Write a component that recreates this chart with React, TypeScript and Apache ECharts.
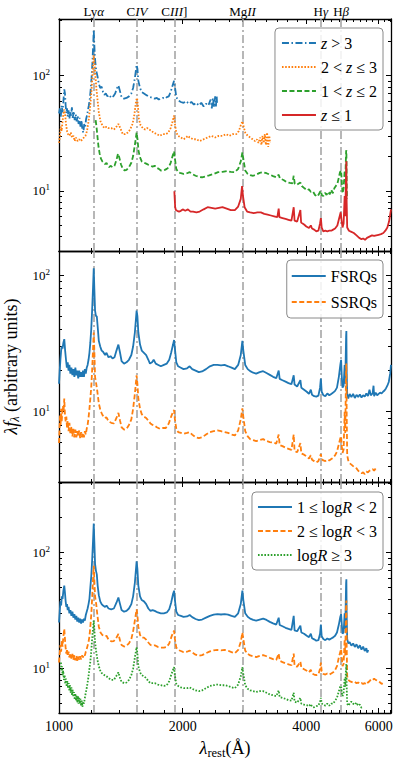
import React, { useEffect, useRef } from "react";
import * as echarts from "echarts";

type Pt = [number, number];

// ---------- axes / annotations ----------
const X_MIN = 1000;
const X_MAX = 6430;
const X_MAJOR = [1000, 2000, 4000, 6000];
const X_MINOR = [1200, 1400, 1600, 1800, 2200, 2400, 2600, 2800, 3000, 3200, 3400, 3600, 3800, 4200, 4400, 4600, 4800, 5000, 5200, 5400, 5600, 5800, 6200, 6400];
const Y_MAJOR = [10, 100];
const Y_MINOR = [3, 4, 5, 6, 7, 8, 9, 20, 30, 40, 50, 60, 70, 80, 90, 200, 300, 400];
const PANEL_Y_MIN = [3.0, 3.06, 4.15];
const PANEL_Y_MAX = [310, 150, 406];
const LINE_WAVES = [1216, 1549, 1909, 2798, 4340, 4861];
const LINE_LABELS = ["Ly{i|α}", "C{i|IV}", "C{i|III}]", "Mg{i|II}", "H{i|γ}", "H{i|β}"];

// ---------- panel 1: redshift bins ----------
const zGt3: Pt[] = [[1000,47],[1005,52],[1010,44],[1015,55],[1020,48],[1025,60],[1030,76],[1034,70],[1038,55],[1042,47],[1046,52],[1050,44],[1055,50],[1060,42],[1065,48],[1070,45],[1075,53],[1080,43],[1086,49],[1092,41],[1098,46],[1104,40],[1110,45],[1116,38],[1122,43],[1128,36],[1134,41],[1140,34],[1146,32],[1152,38],[1158,36],[1164,42],[1170,45],[1176,50],[1182,55],[1188,62],[1194,75],[1200,95],[1206,130],[1211,180],[1215,250],[1218,200],[1222,150],[1226,130],[1232,110],[1240,100],[1250,85],[1260,78],[1270,80],[1280,72],[1290,68],[1300,70],[1312,66],[1325,68],[1340,64],[1355,66],[1370,70],[1385,78],[1395,82],[1405,75],[1420,65],[1440,63],[1460,64],[1480,66],[1500,70],[1515,78],[1530,95],[1545,124],[1552,115],[1560,90],[1575,78],[1590,72],[1610,70],[1630,68],[1650,66],[1670,65],[1690,64],[1710,63],[1730,64],[1750,62],[1770,63],[1790,64],[1810,63],[1830,65],[1850,66],[1870,72],[1890,82],[1906,90],[1915,80],[1930,65],[1950,61],[1980,59],[2010,58],[2040,60],[2070,57],[2100,59],[2130,56],[2160,58],[2190,55],[2220,58],[2250,54],[2280,57],[2310,55],[2340,62],[2355,52],[2370,64],[2385,53],[2400,66],[2410,54],[2420,67],[2425,58]];
const z2to3: Pt[] = [[1000,26],[1005,30],[1010,36],[1015,33],[1020,40],[1025,46],[1030,51],[1035,46],[1040,38],[1046,33],[1052,31],[1060,30],[1068,32],[1076,29],[1084,30],[1092,27],[1100,29],[1110,27],[1120,28],[1130,27],[1140,28],[1150,29],[1160,30],[1170,33],[1180,40],[1190,52],[1200,75],[1208,110],[1214,150],[1220,130],[1226,100],[1234,75],[1242,60],[1250,48],[1262,40],[1275,37],[1290,35],[1305,36],[1320,35],[1340,35],[1360,34],[1380,36],[1395,38],[1410,35],[1430,31],[1450,31],[1470,32],[1490,34],[1510,38],[1525,45],[1540,60],[1549,64],[1556,55],[1565,42],[1580,37],[1600,35],[1620,34],[1640,35],[1660,34],[1680,33],[1700,32],[1730,31],[1760,30],[1790,31],[1820,31],[1845,32],[1870,35],[1890,40],[1906,45],[1915,38],[1930,32],[1950,30],[1980,29],[2010,28],[2040,29],[2060,30],[2080,29],[2120,28],[2160,28],[2200,27],[2250,28],[2300,29],[2350,30],[2400,29],[2450,30],[2500,30],[2550,31],[2600,30],[2650,31],[2700,31],[2740,33],[2770,37],[2795,40],[2810,37],[2840,32],[2880,30],[2920,29],[2960,28],[3000,27],[3030,28],[3060,26],[3090,29],[3110,25],[3130,30],[3150,26],[3170,31],[3190,25],[3210,32],[3230,24],[3250,30],[3265,26]];
const z1to2: Pt[] = [[1228,41],[1234,36],[1240,30],[1248,24],[1256,21],[1265,19],[1275,18],[1285,17.5],[1295,17],[1305,17.5],[1315,16.5],[1325,16],[1335,16.5],[1350,16],[1365,16.5],[1380,18.5],[1392,21],[1402,19.5],[1415,17],[1430,15.5],[1445,15],[1460,15.2],[1480,16],[1500,17.5],[1515,20],[1530,25],[1545,32],[1553,28],[1562,22],[1575,19.5],[1590,18],[1610,17.5],[1630,17.2],[1650,16.8],[1670,16.5],[1690,16.2],[1710,16.5],[1730,15.8],[1750,15.5],[1770,15],[1790,15],[1810,15.2],[1830,15.5],[1850,16],[1870,17.5],[1890,20],[1906,22],[1915,19],[1930,15.5],[1950,14.5],[1980,14.2],[2010,14],[2050,14.2],[2080,14.5],[2110,14],[2150,13.5],[2190,13.2],[2230,13.1],[2270,13.3],[2320,13.6],[2380,14],[2440,14.5],[2500,14.6],[2560,14.8],[2620,14.6],[2680,14.5],[2730,15.5],[2770,18],[2795,21.5],[2810,19],[2840,15],[2880,14],[2920,13.7],[2970,13.5],[3020,13.8],[3080,14.3],[3140,14.5],[3200,14.2],[3260,13.8],[3320,13.4],[3380,13.1],[3426,13.8],[3450,12.8],[3520,12.4],[3580,11.9],[3650,11.7],[3700,11.6],[3727,13.5],[3750,11.5],[3800,11.3],[3869,11.8],[3900,11],[3960,10.5],[4020,10.1],[4060,10.3],[4100,9.8],[4150,9.9],[4200,9.2],[4250,8.9],[4290,9.3],[4320,9.8],[4340,10],[4360,9.2],[4400,9],[4440,9.6],[4480,9.2],[4520,9.8],[4560,9.3],[4600,10.2],[4640,9.5],[4680,10.5],[4720,11],[4760,11.5],[4800,13],[4830,14.5],[4861,15],[4880,12],[4900,9.5],[4930,10.5],[4959,15],[4975,12],[5000,22],[5007,22.5],[5015,12],[5025,8.5]];
const zLe1: Pt[] = [[1909,9.9],[1913,8.5],[1918,7.2],[1925,6.8],[1940,6.7],[1960,6.6],[1980,6.7],[2000,6.9],[2030,6.7],[2060,6.9],[2090,6.6],[2120,6.6],[2160,6.5],[2200,6.6],[2250,6.9],[2300,7.2],[2350,7.1],[2400,7.0],[2450,7.1],[2500,7.2],[2560,7.0],[2620,6.8],[2680,6.8],[2730,7.3],[2770,8.5],[2790,11],[2805,9],[2830,7.2],[2870,6.6],[2920,6.5],[2980,6.4],[3040,6.5],[3100,6.5],[3160,6.3],[3220,6.2],[3280,6.1],[3340,6.0],[3400,5.9],[3426,7.0],[3440,5.9],[3500,5.8],[3560,5.7],[3620,5.6],[3680,5.5],[3727,7.2],[3745,5.5],[3800,5.4],[3869,6.8],[3885,5.3],[3950,5.1],[4000,4.9],[4060,4.75],[4102,5.0],[4130,4.7],[4180,4.6],[4230,4.45],[4280,4.5],[4320,5.2],[4340,5.8],[4360,4.8],[4400,4.45],[4450,4.5],[4500,4.45],[4550,4.5],[4600,4.5],[4650,4.6],[4700,4.7],[4760,5.0],[4810,5.8],[4850,6.5],[4875,5.5],[4900,4.8],[4930,5.2],[4959,9],[4975,6],[5000,15],[5007,18],[5015,8],[5030,4.8],[5080,4.5],[5150,4.4],[5220,4.3],[5300,4.1],[5380,3.9],[5450,3.8],[5500,3.85],[5560,3.75],[5620,3.9],[5700,4.0],[5780,4.1],[5850,4.05],[5920,4.1],[6000,4.15],[6080,4.2],[6160,4.3],[6230,4.5],[6300,4.8],[6360,5.4],[6400,6.2],[6430,6.9]];

// ---------- panel 2: FSRQs / SSRQs ----------
const fsrq: Pt[] = [[1000,16],[1004,20],[1008,24],[1012,28],[1016,30],[1020,29],[1025,32],[1030,34],[1035,28],[1040,24],[1045,21],[1050,23],[1055,20],[1060,22],[1066,19],[1072,21],[1078,18.5],[1084,20.5],[1090,18],[1096,21],[1102,18.5],[1108,20],[1114,17.5],[1120,20],[1126,18],[1132,19.5],[1138,18],[1144,20],[1150,18],[1156,20.5],[1162,19],[1168,21],[1174,22],[1180,24],[1186,27],[1192,32],[1198,40],[1204,55],[1210,80],[1215,112],[1219,80],[1224,55],[1230,50],[1236,50],[1242,42],[1250,33],[1260,30],[1270,28],[1280,27.5],[1295,26],[1305,27],[1320,25],[1335,25.5],[1350,24.5],[1365,25],[1380,28],[1395,31],[1408,27],[1420,23.5],[1440,22.5],[1460,23],[1480,24],[1500,26],[1515,30],[1530,38],[1545,55],[1552,50],[1560,38],[1575,31],[1590,28],[1610,27],[1630,26],[1650,24],[1665,22.5],[1685,23],[1700,24],[1720,22.5],[1745,22],[1770,21.5],[1800,22],[1830,22.5],[1855,24],[1875,27],[1895,31],[1906,33.5],[1915,29],[1930,23],[1950,21.5],[1980,21],[2010,20.5],[2050,20.8],[2080,21.5],[2110,20.5],[2150,20],[2190,19.5],[2230,19.7],[2280,20.5],[2330,21.5],[2380,22],[2430,22],[2480,21.8],[2530,22],[2580,21.5],[2630,21],[2680,20.5],[2730,22],[2770,26],[2795,33],[2810,28],[2840,22],[2880,20.5],[2920,19.8],[2970,19.3],[3020,19],[3080,19.5],[3140,19.8],[3200,19.2],[3260,18.6],[3320,18],[3380,17.6],[3426,20],[3445,17.4],[3500,17],[3560,16.6],[3620,16.2],[3680,15.9],[3727,18.5],[3745,15.8],[3800,15.3],[3869,17],[3890,15],[3950,14.5],[4010,14],[4060,13.5],[4102,14.5],[4130,13.3],[4180,13],[4230,12.9],[4280,13.1],[4320,15],[4340,17.5],[4360,14],[4400,13.2],[4450,13],[4500,13.6],[4550,13.2],[4600,13.5],[4650,13.8],[4700,14.2],[4750,15],[4800,18],[4840,22],[4861,24],[4880,18],[4900,15],[4930,15.5],[4959,22],[4975,16],[5000,36],[5007,39],[5015,20],[5030,13.5],[5060,12.5],[5100,13.5],[5150,12.8],[5200,13.5],[5250,12.6],[5300,13.3],[5350,12.8],[5400,13.4],[5450,12.7],[5500,13.2],[5550,12.9],[5600,13.6],[5650,13],[5700,14.5],[5740,13.2],[5800,13.6],[5830,15.5],[5850,13],[5900,13.8],[5950,13.2],[6000,13.5],[6050,13.8],[6100,13.6],[6150,14],[6200,14.3],[6250,14.8],[6300,15.5],[6350,16.5],[6400,19],[6430,22]];
const ssrq: Pt[] = [[1000,5.9],[1003,7.5],[1006,9.5],[1009,8],[1012,10.5],[1015,8.5],[1018,9.5],[1022,11],[1026,10],[1030,12.5],[1034,9.5],[1038,8.5],[1042,9.2],[1046,7.6],[1050,8.6],[1055,7.2],[1060,8.3],[1066,6.9],[1072,7.8],[1078,6.6],[1084,7.5],[1090,6.5],[1096,7.4],[1102,6.5],[1108,7.2],[1114,6.6],[1120,7.3],[1126,6.4],[1132,7.1],[1138,6.5],[1144,7],[1150,6.5],[1156,7.2],[1162,6.8],[1168,7.5],[1174,8],[1180,9],[1186,10.5],[1192,12.5],[1198,15],[1204,20],[1210,28],[1215,38],[1219,28],[1224,18],[1232,16],[1240,14],[1250,11.5],[1262,10.2],[1275,9.5],[1290,9.0],[1305,9.1],[1320,8.5],[1340,8.3],[1360,8.2],[1380,9],[1395,9.8],[1408,8.6],[1420,7.7],[1440,7.4],[1460,7.5],[1480,8],[1500,8.8],[1515,10.5],[1530,13.5],[1545,18.5],[1552,16],[1560,12.5],[1575,10.5],[1590,9.6],[1610,9.2],[1630,9.0],[1650,8.6],[1670,8.2],[1690,8.0],[1710,7.9],[1730,7.7],[1760,7.5],[1790,7.6],[1820,7.6],[1850,8.2],[1875,9.2],[1895,10],[1906,10.3],[1915,8.8],[1930,7.5],[1950,7.1],[1980,7.0],[2010,6.9],[2050,7.0],[2080,7.1],[2110,6.8],[2150,6.5],[2190,6.4],[2230,6.5],[2280,6.8],[2330,7.1],[2380,7.2],[2430,7.3],[2480,7.2],[2530,7.1],[2580,7.0],[2630,6.8],[2680,6.7],[2730,7.3],[2770,8.8],[2795,10.6],[2810,9.2],[2840,7.2],[2880,6.6],[2920,6.3],[2970,6.2],[3020,6.1],[3080,6.2],[3140,6.3],[3200,6.1],[3260,6.0],[3320,5.95],[3380,5.85],[3426,6.8],[3445,5.7],[3500,5.6],[3560,5.45],[3620,5.35],[3680,5.25],[3727,6.8],[3745,5.15],[3800,5.05],[3869,5.9],[3890,4.95],[3950,4.85],[4010,4.7],[4060,4.55],[4102,4.8],[4130,4.45],[4180,4.35],[4230,4.25],[4280,4.35],[4320,4.7],[4340,4.9],[4360,4.5],[4400,4.4],[4450,4.35],[4500,4.45],[4550,4.4],[4600,4.5],[4650,4.6],[4700,4.8],[4750,5.1],[4800,5.8],[4840,6.4],[4861,6.6],[4880,5.6],[4900,5.0],[4930,5.3],[4959,10],[4975,7],[5000,21],[5007,22.5],[5015,10],[5030,4.8],[5060,4.4],[5100,4.2],[5150,4.1],[5200,4.0],[5250,3.9],[5300,3.85],[5350,3.7],[5400,3.6],[5450,3.55],[5500,3.6],[5550,3.5],[5600,3.65],[5650,3.6],[5700,3.7],[5750,3.75],[5800,3.8],[5850,3.7],[5900,3.85],[5937,3.7]];

// ---------- panel 3: radio-loudness bins ----------
const logR1to2: Pt[] = [[1000,25],[1004,31],[1008,38],[1012,35],[1016,42],[1020,40],[1025,47],[1030,52],[1034,45],[1038,38],[1042,34],[1046,36],[1050,32],[1055,34],[1060,30],[1066,32],[1072,28.5],[1078,31],[1084,27.5],[1090,29.5],[1096,26.5],[1102,28.5],[1108,25.5],[1114,27.5],[1120,25],[1126,27],[1132,24.5],[1138,26.5],[1144,25],[1150,27],[1156,26],[1162,29],[1168,31],[1174,33],[1180,36],[1186,40],[1192,50],[1198,62],[1204,85],[1210,125],[1215,178],[1219,125],[1224,80],[1230,70],[1236,65],[1242,52],[1250,43],[1260,38],[1270,36],[1280,35],[1295,34],[1305,35],[1320,33],[1340,32.5],[1360,33],[1380,37],[1395,41],[1408,36],[1420,32],[1440,31],[1460,31.5],[1480,33],[1500,36],[1515,42],[1530,55],[1545,84],[1552,72],[1560,52],[1575,42],[1590,39],[1610,38],[1630,36],[1650,33],[1670,31.5],[1690,32],[1710,31.5],[1740,30.5],[1770,30],[1800,30],[1830,30.5],[1855,32.5],[1875,37],[1895,44],[1906,47],[1915,39],[1930,31],[1950,29],[1980,28.5],[2010,28],[2050,28.2],[2080,29],[2110,27.8],[2150,26.8],[2190,26.2],[2230,26.5],[2280,27.5],[2330,28.5],[2380,29.2],[2430,29.5],[2480,29.3],[2530,29.5],[2580,29.2],[2630,28.5],[2680,28],[2730,30],[2770,36],[2795,47],[2810,39],[2840,30],[2880,28],[2920,27],[2970,26.3],[3020,26],[3080,26.5],[3140,27],[3200,26.3],[3260,25.3],[3320,24.6],[3380,24],[3426,27.5],[3445,23.8],[3500,23.2],[3560,22.5],[3620,22],[3680,21.6],[3727,28.5],[3745,21.4],[3800,21],[3869,23.5],[3890,20.5],[3950,20],[4010,19.2],[4060,18.7],[4102,20],[4130,18.3],[4180,17.9],[4230,17.4],[4280,17.6],[4320,20],[4340,24],[4360,19],[4400,18],[4450,17.6],[4500,18.2],[4550,17.8],[4600,18.2],[4650,18.6],[4700,19.2],[4750,20.5],[4800,24],[4840,28],[4861,29.5],[4880,24],[4900,20],[4930,20.5],[4959,30],[4975,22],[5000,55],[5007,59],[5015,30],[5030,18],[5060,16.5],[5100,16.9],[5150,15.8],[5200,16.5],[5250,15.4],[5300,16.2],[5350,15],[5400,15.9],[5450,14.6],[5500,15.5],[5550,14.2],[5600,15],[5630,13.8],[5660,14.5]];
const logR2to3: Pt[] = [[1000,11.3],[1004,13.5],[1008,16],[1012,14],[1016,17.5],[1020,15.5],[1025,19],[1030,22],[1034,18],[1038,15],[1042,13.5],[1046,14.8],[1050,12.8],[1055,14],[1060,12.5],[1066,13.6],[1072,12.2],[1078,13.4],[1084,11.9],[1090,13.1],[1096,11.8],[1102,12.9],[1108,11.7],[1114,12.7],[1120,11.9],[1126,12.8],[1132,12],[1138,13],[1144,12.5],[1150,13.3],[1156,13],[1162,14],[1168,14.8],[1174,15.8],[1180,17],[1186,19],[1192,23],[1198,29],[1204,40],[1210,58],[1215,77],[1219,58],[1224,42],[1232,36],[1240,29],[1250,23],[1262,20.5],[1275,19.5],[1290,19],[1305,19.2],[1320,17.8],[1340,17.2],[1360,17.3],[1380,18.5],[1395,19.9],[1408,17.5],[1420,16],[1440,15.5],[1460,15.8],[1480,16.5],[1500,18],[1515,21],[1530,26],[1545,32.5],[1552,29],[1560,23],[1575,19.5],[1590,18.5],[1610,18.5],[1630,17.8],[1650,16.8],[1670,16],[1690,15.8],[1710,15.9],[1740,15.4],[1770,15.2],[1800,15.2],[1830,15.4],[1855,16.5],[1875,18.5],[1895,20.5],[1906,21.3],[1915,18],[1930,15.2],[1950,14.5],[1980,14.2],[2010,13.9],[2050,14],[2080,14.3],[2110,13.8],[2150,13.2],[2190,12.9],[2230,13.1],[2280,13.6],[2330,14.1],[2380,14.4],[2430,14.5],[2480,14.4],[2530,14.5],[2580,14.3],[2630,13.9],[2680,13.6],[2730,14.5],[2770,17],[2795,20.5],[2810,18],[2840,14.3],[2880,13.4],[2920,13],[2970,12.8],[3020,12.6],[3080,12.9],[3140,13.1],[3200,12.8],[3260,12.4],[3320,12.1],[3380,11.9],[3426,13.5],[3445,11.7],[3500,11.4],[3560,11.1],[3620,10.9],[3680,10.7],[3727,13.5],[3745,10.6],[3800,10.4],[3869,11.5],[3890,10.2],[3950,9.9],[4010,9.6],[4060,9.3],[4102,9.8],[4130,9.1],[4180,8.9],[4230,8.8],[4280,8.9],[4320,10],[4340,11.3],[4360,9.5],[4400,9.0],[4450,8.9],[4500,9.1],[4550,8.9],[4600,9.1],[4650,9.3],[4700,9.7],[4750,10.5],[4800,12.5],[4840,14],[4861,14.8],[4880,12.5],[4900,10.5],[4930,11],[4959,18],[4975,13],[5000,36],[5007,38.7],[5015,16],[5030,8.6],[5060,8.0],[5100,7.8],[5150,7.7],[5200,7.6],[5250,7.7],[5300,7.5],[5350,7.6],[5400,7.4],[5450,7.5],[5500,7.4],[5550,7.5],[5600,7.3],[5650,7.6],[5700,7.8],[5750,8.1],[5800,8.0],[5850,8.2],[5900,8.0],[5950,7.9],[6000,7.8],[6050,7.6],[6100,7.4],[6140,7.5]];
const logRge3: Pt[] = [[1011,11.3],[1014,9.5],[1017,10.5],[1020,8.8],[1024,9.6],[1028,8],[1032,8.8],[1036,7.4],[1040,8.2],[1044,7],[1048,7.8],[1052,6.8],[1056,7.5],[1060,6.5],[1064,7.2],[1068,6.2],[1072,6.9],[1076,5.9],[1080,6.6],[1084,5.7],[1088,6.3],[1092,5.4],[1096,6.1],[1100,5.3],[1104,5.9],[1108,5.1],[1112,5.8],[1116,5.0],[1120,5.6],[1124,5.0],[1128,5.5],[1132,4.8],[1136,5.3],[1140,4.7],[1146,5.2],[1150,5.0],[1156,5.6],[1162,6.2],[1168,6.8],[1174,7.6],[1180,8.6],[1186,10],[1192,11.5],[1198,14],[1204,18],[1210,22],[1215,26],[1219,22],[1224,17],[1232,14],[1240,12],[1250,10.5],[1262,9.5],[1275,9],[1290,8.8],[1305,8.6],[1320,8.3],[1340,8.0],[1360,8.0],[1380,8.7],[1395,9.3],[1408,8.3],[1420,7.7],[1440,7.5],[1460,7.6],[1480,8],[1500,8.8],[1515,10],[1530,12.5],[1545,15.3],[1552,13.5],[1560,10.5],[1575,9.3],[1590,8.8],[1610,8.6],[1630,8.3],[1650,7.8],[1670,7.5],[1690,7.5],[1710,7.5],[1740,7.3],[1770,7.2],[1800,7.1],[1830,7.2],[1855,7.8],[1875,8.8],[1895,9.8],[1906,10.3],[1915,8.7],[1930,7.4],[1950,7.1],[1980,6.9],[2010,6.8],[2050,6.8],[2080,6.9],[2110,6.7],[2150,6.5],[2190,6.4],[2230,6.5],[2280,6.8],[2330,7.1],[2380,7.2],[2430,7.3],[2480,7.2],[2530,7.2],[2580,7.1],[2630,6.9],[2680,6.8],[2730,7.3],[2770,8.6],[2795,10.3],[2810,9],[2840,7.2],[2880,6.7],[2920,6.5],[2970,6.4],[3020,6.3],[3080,6.4],[3140,6.4],[3200,6.2],[3260,6.0],[3320,5.9],[3380,5.8],[3426,6.5],[3445,5.7],[3500,5.6],[3560,5.5],[3620,5.35],[3680,5.3],[3727,6.2],[3745,5.2],[3800,5.1],[3869,5.6],[3890,5.0],[3950,4.9],[4010,4.85],[4060,4.75],[4102,4.95],[4130,4.7],[4180,4.65],[4230,4.75],[4280,4.8],[4320,5.2],[4340,5.6],[4360,5.0],[4400,4.9],[4450,4.8],[4500,5.0],[4550,4.8],[4600,5.0],[4650,5.0],[4700,5.3],[4750,5.6],[4800,6.4],[4840,7.0],[4861,7.1],[4880,6.2],[4900,5.8],[4930,6.2],[4959,8.3],[4975,7],[5000,10.5],[5007,11],[5015,7],[5030,5.0],[5060,4.8],[5100,5.0],[5150,5.2],[5200,5.0],[5250,4.9],[5300,5.1],[5350,4.8],[5400,4.9],[5450,4.6],[5500,4.7]];

// ---------- series meta ----------
const P1_NAMES = ["z>3", "2<z≤3", "1<z≤2", "z≤1"];
const P1_LABELS = ["{i|z} > 3", "2 < {i|z} ≤ 3", "1 < {i|z} ≤ 2", "{i|z} ≤ 1"];
const P2_NAMES = ["FSRQs", "SSRQs"];
const P3_NAMES = ["1≤logR<2", "2≤logR<3", "logR≥3"];
const P3_LABELS = ["1 ≤ log{i|R} < 2", "2 ≤ log{i|R} < 3", "log{i|R} ≥ 3"];

const FONT = "'Liberation Serif', 'DejaVu Serif', serif";
const C_BLUE = "#1f77b4";
const C_ORANGE = "#ff7f0e";
const C_GREEN = "#2ca02c";
const C_RED = "#d62728";
const DASH = [5, 2.5];
const DOT = [1.6, 1.6];
const DASHDOT = [7, 2.5, 1.5, 2.5];
const LW = 1.8;

export default function App() {
  const ref = useRef<HTMLDivElement>(null);

  useEffect(() => {
    if (!ref.current) return;
    const chart = echarts.init(ref.current, undefined, { renderer: "svg" });

    const grids = [
      { left: 59, top: 19, width: 332, height: 232 },
      { left: 59, top: 251, width: 332, height: 231 },
      { left: 59, top: 482, width: 332, height: 231 },
    ].map((g) => ({ ...g, containLabel: false, outerBoundsMode: "none" }));

    const italicRich = (size: number) => ({
      i: { fontStyle: "italic", fontFamily: FONT, fontSize: size, color: "#000" },
    });

    const xAxes: any[] = [];
    const yAxes: any[] = [];
    for (let g = 0; g < 3; g++) {
      for (const pos of ["bottom", "top"]) {
        for (const major of [true, false]) {
          const showLabel = g === 2 && pos === "bottom" && major;
          const ax: any = {
            type: "log",
            logBase: 10,
            gridIndex: g,
            position: pos,
            min: X_MIN,
            max: X_MAX,
            axisLine: { show: major, onZero: false, lineStyle: { color: "#000", width: 1.3 } },
            axisTick: {
              show: true,
              inside: true,
              length: major ? 5 : 3,
              customValues: major ? X_MAJOR : X_MINOR,
              lineStyle: { color: "#000", width: 1 },
            },
            minorTick: { show: false },
            splitLine: { show: false },
            axisLabel: showLabel
              ? {
                  show: true,
                  customValues: X_MAJOR,
                  formatter: (v: number) => String(Math.round(v)),
                  color: "#000",
                  fontFamily: FONT,
                  fontSize: 14,
                  margin: 6,
                  showMinLabel: true,
                  showMaxLabel: true,
                }
              : { show: false },
          };
          if (showLabel) {
            ax.name = "{i|λ}{s|rest}(Å)";
            ax.nameLocation = "middle";
            ax.nameGap = 24;
            ax.nameTextStyle = {
              color: "#000",
              fontFamily: FONT,
              fontSize: 18,
              rich: {
                i: { fontStyle: "italic", fontFamily: FONT, fontSize: 18, color: "#000" },
                s: { fontFamily: FONT, fontSize: 12.5, color: "#000", padding: [9, 0, 0, 0] },
              },
            };
          }
          xAxes.push(ax);
        }
      }
      const ymin = PANEL_Y_MIN[g];
      const ymax = PANEL_Y_MAX[g];
      const minors = Y_MINOR.filter((v) => v > ymin && v < ymax);
      for (const pos of ["left", "right"]) {
        for (const major of [true, false]) {
          const showLabel = pos === "left" && major;
          const ay: any = {
            type: "log",
            logBase: 10,
            gridIndex: g,
            position: pos,
            min: ymin,
            max: ymax,
            axisLine: { show: major, onZero: false, lineStyle: { color: "#000", width: 1.3 } },
            axisTick: {
              show: true,
              inside: true,
              length: major ? 5 : 3,
              customValues: major ? Y_MAJOR : minors,
              lineStyle: { color: "#000", width: 1 },
            },
            minorTick: { show: false },
            splitLine: { show: false },
            axisLabel: showLabel
              ? {
                  show: true,
                  customValues: Y_MAJOR,
                  formatter: (v: number) => `10{u|${Math.round(Math.log10(v))}}`,
                  color: "#000",
                  fontFamily: FONT,
                  fontSize: 13,
                  margin: 9,
                  rich: { u: { fontFamily: FONT, fontSize: 9, color: "#000", padding: [0, 0, 7, 0] } },
                }
              : { show: false },
          };
          if (g === 1 && showLabel) {
            ay.name = "{i|λf}{s|λ} (arbitrary units)";
            ay.nameLocation = "middle";
            ay.nameRotate = 90;
            ay.nameGap = 27;
            ay.nameTextStyle = {
              color: "#000",
              fontFamily: FONT,
              fontSize: 18,
              rich: {
                i: { fontStyle: "italic", fontFamily: FONT, fontSize: 18, color: "#000" },
                s: { fontStyle: "italic", fontFamily: FONT, fontSize: 12.5, color: "#000", padding: [9, 0, 0, 0] },
              },
            };
          }
          yAxes.push(ay);
        }
      }
    }

    const mk = (name: string, data: Pt[], color: string, dash: any, g: number) => ({
      name,
      type: "line",
      data,
      xAxisIndex: 4 * g,
      yAxisIndex: 4 * g,
      showSymbol: false,
      symbol: "none",
      lineStyle: { color, width: LW, type: dash },
      itemStyle: { color },
      emphasis: { disabled: true },
      silent: true,
      z: 3,
    });

    const guide = (g: number) => ({
      type: "line",
      data: [],
      xAxisIndex: 4 * g,
      yAxisIndex: 4 * g,
      silent: true,
      markLine: {
        silent: true,
        z: 1,
        symbol: ["none", "none"],
        lineStyle: { color: "#a0a0a0", width: 1.5, type: [8, 3, 2, 3] },
        label: {
          show: g === 0,
          position: "end",
          distance: 1,
          color: "#000",
          fontFamily: FONT,
          fontSize: 13,
          rich: italicRich(13),
        },
        emphasis: { disabled: true },
        data: LINE_WAVES.map((w, k) => ({ xAxis: w, label: { formatter: LINE_LABELS[k] } })),
      },
    });

    const legendBase = () => ({
      orient: "vertical",
      right: 16,
      itemWidth: 34,
      itemHeight: 14,
      selectedMode: false,
      backgroundColor: "rgba(255,255,255,0.85)",
      borderColor: "#8a8a8a",
      borderWidth: 1,
      borderRadius: 4,
      itemStyle: { opacity: 0, color: "transparent", borderWidth: 0 },
      textStyle: {
        color: "#000",
        fontFamily: FONT,
        fontSize: 16,
        lineHeight: 16,
        rich: italicRich(16),
      },
    });

    const option: any = {
      animation: false,
      textStyle: { fontFamily: FONT },
      grid: grids,
      xAxis: xAxes,
      yAxis: yAxes,
      legend: [
        {
          ...legendBase(),
          top: 28,
          itemGap: 8,
          padding: [7, 6, 7, 6],
          data: P1_NAMES,
          formatter: (n: string) => P1_LABELS[P1_NAMES.indexOf(n)],
        },
        {
          ...legendBase(),
          top: 260,
          itemGap: 10,
          padding: [8, 6, 8, 4],
          data: P2_NAMES,
        },
        {
          ...legendBase(),
          top: 492,
          itemGap: 8,
          padding: [7, 6, 7, 5],
          data: P3_NAMES,
          formatter: (n: string) => P3_LABELS[P3_NAMES.indexOf(n)],
        },
      ],
      series: [
        guide(0),
        guide(1),
        guide(2),
        mk(P1_NAMES[0], zGt3, C_BLUE, DASHDOT, 0),
        mk(P1_NAMES[1], z2to3, C_ORANGE, DOT, 0),
        mk(P1_NAMES[2], z1to2, C_GREEN, DASH, 0),
        mk(P1_NAMES[3], zLe1, C_RED, "solid", 0),
        mk(P2_NAMES[0], fsrq, C_BLUE, "solid", 1),
        mk(P2_NAMES[1], ssrq, C_ORANGE, DASH, 1),
        mk(P3_NAMES[0], logR1to2, C_BLUE, "solid", 2),
        mk(P3_NAMES[1], logR2to3, C_ORANGE, DASH, 2),
        mk(P3_NAMES[2], logRge3, C_GREEN, DOT, 2),
      ],
    };

    chart.setOption(option);
    return () => chart.dispose();
  }, []);

  return (
    <div
      ref={ref}
      style={{ position: "fixed", left: 0, top: 0, width: 399, height: 769, background: "#fff" }}
    />
  );
}
